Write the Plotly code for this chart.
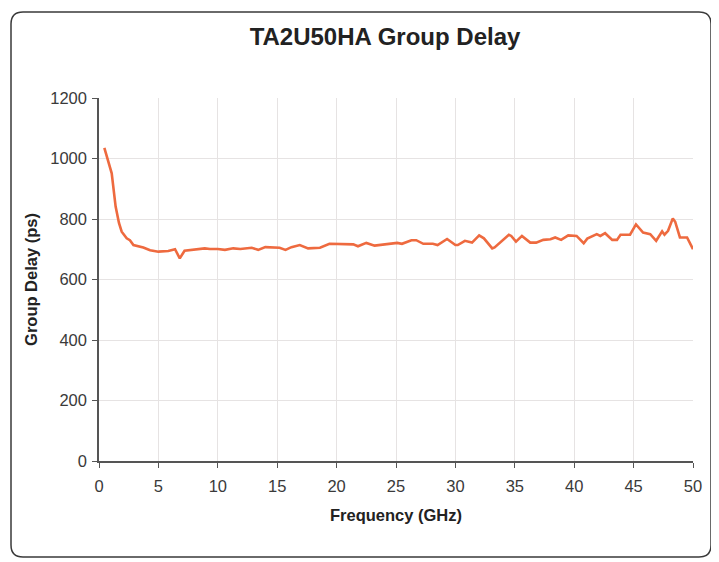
import plotly.graph_objects as go

freq_ghz = [0.45, 1.07, 1.4, 1.68, 1.91, 2.33, 2.6, 2.9, 3.73, 4.3, 5.0, 5.83, 6.4, 6.8, 7.2, 8.0, 8.9,
            9.34, 10.0, 10.6, 11.3, 11.9, 12.85, 13.4, 14.0, 15.2, 15.7, 16.2, 16.9, 17.6, 18.6,
            19.4, 20.3, 21.4, 21.8, 22.5, 23.2, 24.2, 25.1, 25.5, 26.3, 26.7, 27.3, 28.1, 28.5,
            29.3, 30.0, 30.2, 30.8, 31.4, 32.0, 32.4, 33.1, 33.3, 34.5, 34.7, 35.1, 35.6, 36.3,
            36.8, 37.4, 38.0, 38.4, 38.9, 39.5, 40.2, 40.8, 41.1, 41.9, 42.2, 42.6, 43.2, 43.6,
            43.9, 44.7, 45.2, 45.8, 46.4, 46.9, 47.4, 47.6, 47.9, 48.3, 48.5, 48.9, 49.5, 50.0]
group_delay_ps = [1035, 951, 841, 787, 758, 736, 730, 714, 706, 697, 692, 694, 700, 670, 695, 698, 703,
                  701, 701, 698, 703, 701, 705, 698, 707, 705, 698, 707, 714, 703, 705,
                  718, 718, 716, 710, 721, 712, 716, 721, 718, 730, 730, 718, 718, 714,
                  734, 714, 714, 728, 722, 746, 736, 703, 706, 748, 744, 725, 744, 722,
                  722, 731, 733, 739, 731, 746, 744, 720, 735, 750, 744, 753, 731, 731,
                  748, 748, 782, 755, 750, 728, 759, 748, 761, 802, 791, 739, 739, 700]

x_ticks = [0, 5, 10, 15, 20, 25, 30, 35, 40, 45, 50]
y_ticks = [0, 200, 400, 600, 800, 1000, 1200]

fig = go.Figure()
fig.add_trace(go.Scatter(x=freq_ghz, y=group_delay_ps, mode="lines",
                         line=dict(color="#EE6A3F", width=2.6), showlegend=False))

# page has an 8px body margin; target geometry measured in page pixels
OFF = 8
FW, FH = 719 - OFF, 562 - OFF
L, R, T, B = 99 - OFF, 693 - OFF, 98 - OFF, 461 - OFF
W, H = R - L, B - T
def px(x): return (x - OFF - L) / W
def py(y): return (B - (y - OFF)) / H
x0, x1, y0, y1, r = 11, 711, 12, 557, 12
path = (f"M {px(x0+r)},{py(y0)} L {px(x1-r)},{py(y0)} Q {px(x1)},{py(y0)} {px(x1)},{py(y0+r)} "
        f"L {px(x1)},{py(y1-r)} Q {px(x1)},{py(y1)} {px(x1-r)},{py(y1)} "
        f"L {px(x0+r)},{py(y1)} Q {px(x0)},{py(y1)} {px(x0)},{py(y1-r)} "
        f"L {px(x0)},{py(y0+r)} Q {px(x0)},{py(y0)} {px(x0+r)},{py(y0)} Z")
fig.add_shape(type="path", path=path, xref="paper", yref="paper",
              line=dict(color="#3a3a3a", width=1.5), layer="below")

fig.update_layout(
    width=FW, height=FH,
    margin=dict(l=L, r=FW - R, t=T, b=FH - B),
    paper_bgcolor="white", plot_bgcolor="white",
    font=dict(family="Liberation Sans, Arial, sans-serif", color="#222"),
    title=dict(text="<b>TA2U50HA Group Delay</b>", x=(385 - OFF) / FW, xanchor="center",
               y=1 - (37 - OFF) / FH, yanchor="middle", font=dict(size=24, color="#222")),
)
fig.update_xaxes(range=[0, 50], tickvals=x_ticks, ticks="outside", ticklen=5, tickcolor="#555",
                 showline=True, linecolor="#555", linewidth=1.5, showgrid=True,
                 gridcolor="#e6e3e3", gridwidth=1, zeroline=False, ticklabelstandoff=4,
                 tickfont=dict(size=16.5, color="#3a3a3a"),
                 title=dict(text="<b>Frequency (GHz)</b>", font=dict(size=16.5, color="#222"), standoff=16))
fig.update_yaxes(range=[0, 1200], tickvals=y_ticks, ticks="outside", ticklen=5, tickcolor="#555",
                 showline=True, linecolor="#555", linewidth=1.5, showgrid=True,
                 gridcolor="#e6e3e3", gridwidth=1, zeroline=False, ticklabelstandoff=2,
                 tickfont=dict(size=16.5, color="#3a3a3a"),
                 title=dict(text="<b>Group Delay (ps)</b>", font=dict(size=16.5, color="#222"), standoff=8))

fig.write_html("out.html")
